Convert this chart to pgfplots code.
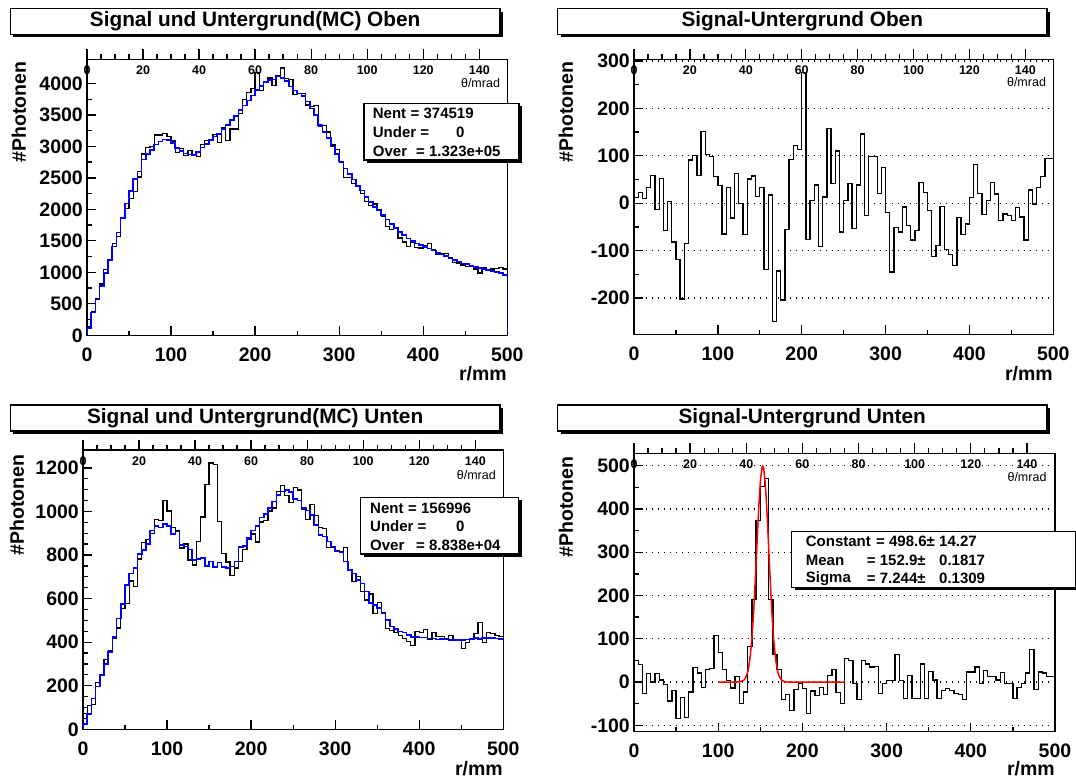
\documentclass[border=0pt]{standalone}
\usepackage{fontspec}
\setmainfont{Liberation Sans}
\usepackage{pgfplots}
\pgfplotsset{compat=1.18}
\usepackage{pgfplotstable}

\newcommand{\tickf}{\fontsize{19.5}{19.5}\selectfont\bfseries}
\newcommand{\titf}{\fontsize{20.8}{20.8}\selectfont\bfseries}
\newcommand{\thf}{\fontsize{12.5}{12.5}\selectfont\bfseries}
\newcommand{\thl}{\fontsize{12.5}{12.5}\selectfont}
\newcommand{\statf}{\fontsize{15}{15}\selectfont\bfseries}
\newcommand{\labf}{\fontsize{19.5}{19.5}\selectfont\bfseries}

\pgfplotstableread{
r b k d
0 0 0 0
0 120 132 12
5 360 383 23
10 570 580 10
15 780 813 33
20 990 1049 59
25 1200 1187 -13
30 1410 1462 52
35 1630 1572 -58
40 1860 1863 3
45 2090 2008 -82
50 2290 2171 -119
55 2480 2278 -202
60 2600 2515 -85
65 2790 2881 91
70 2880 2980 100
75 2940 2999 59
80 3030 3181 151
85 3080 3183 103
90 3110 3208 98
95 3100 3156 56
100 3050 3087 37
105 2970 2905 -65
110 2930 2963 33
115 2890 2859 -31
120 2870 2933 63
125 2860 2860 0
130 2910 2844 -66
135 2980 3031 51
140 3040 3097 57
145 3100 3114 14
150 3160 3193 33
155 3200 3060 -140
160 3280 3297 17
165 3340 3090 -250
170 3420 3277 -143
175 3480 3276 -204
180 3580 3524 -56
185 3650 3742 92
190 3730 3851 121
195 3810 3923 113
200 3900 4175 275
205 3960 3883 -77
210 4020 4026 6
215 4050 4088 38
220 4060 3969 -91
225 4110 4123 13
230 4090 4247 157
235 4040 4082 42
240 3950 4060 110
245 3890 3829 -61
250 3840 3845 5
255 3800 3842 42
260 3710 3656 -54
265 3600 3638 38
270 3500 3646 146
275 3340 3314 -26
280 3230 3328 98
285 3130 3228 98
290 3000 3021 21
295 2880 2955 75
300 2760 2740 -20
305 2650 2505 -145
310 2560 2509 -51
315 2475 2414 -61
320 2370 2362 -8
325 2300 2253 -47
330 2200 2122 -78
335 2120 2063 -57
340 2040 2083 43
345 1980 2002 22
350 1910 1895 -15
355 1840 1727 -113
360 1770 1681 -89
365 1700 1693 -7
370 1645 1547 -98
375 1590 1482 -108
380 1540 1409 -131
385 1500 1470 -30
390 1460 1394 -66
395 1430 1386 -44
400 1405 1417 12
405 1380 1462 82
410 1345 1366 21
415 1310 1286 -24
420 1285 1290 5
425 1260 1304 44
430 1220 1239 19
435 1195 1159 -36
440 1170 1147 -23
445 1140 1114 -26
450 1130 1094 -36
455 1100 1091 -9
460 1080 1051 -29
465 1065 987 -78
470 1050 1078 28
475 1035 1033 -2
480 1020 1053 33
485 1005 1061 56
490 985 1079 94
495 960 1054 94
500 960 1054 94
500 0 0 0
}\topdata

\pgfplotstableread{
r b k d
0 0 0 0
0 24 73 49
5 70 110 40
10 142 115 -27
15 196 215 19
20 249 249 0
25 300 319 19
30 356 361 5
35 425 419 -6
40 509 465 -44
45 575 556 -19
50 663 578 -85
55 716 681 -35
60 739 657 -82
65 805 782 -23
70 823 856 33
75 851 872 21
80 912 900 -12
85 933 962 29
90 927 958 31
95 941 1049 108
100 933 1002 69
105 897 926 29
110 907 911 4
115 846 832 -14
120 839 851 12
125 826 777 -49
130 777 754 -23
135 781 863 82
140 785 975 190
145 750 1124 374
150 770 1222 452
155 744 1214 470
160 765 955 190
165 744 808 64
170 739 768 29
175 747 706 -41
180 770 741 -29
185 836 771 -65
190 842 824 -18
195 877 873 -4
200 912 897 -15
205 933 860 -73
210 973 952 -21
215 989 958 -31
220 1015 1002 -13
225 1045 1016 -29
230 1076 1091 15
235 1091 1120 29
240 1099 1074 -25
245 1090 1040 -50
250 1056 1110 54
255 1050 1099 49
260 1015 1011 -4
265 1004 964 -40
270 984 1033 49
275 938 980 42
280 892 927 35
285 885 921 36
290 862 835 -27
295 839 835 -4
300 816 820 4
305 811 815 4
310 770 834 64
315 731 735 4
320 716 678 -38
325 686 701 15
330 670 632 -38
335 632 594 -38
340 579 621 42
345 571 533 -38
350 556 581 25
355 532 537 5
360 502 464 -38
365 471 452 -19
370 459 444 -15
375 448 429 -19
380 444 417 -27
385 433 404 -29
390 425 384 -41
395 425 448 23
400 422 445 23
405 422 457 35
410 417 413 -4
415 417 444 27
420 413 425 12
425 415 427 12
430 413 418 5
435 410 432 22
440 412 408 -4
445 410 406 -4
450 410 372 -38
455 412 400 -12
460 415 411 -4
465 418 439 21
470 415 490 75
475 418 400 -18
480 420 443 23
485 418 439 21
490 417 430 13
495 415 427 12
500 415 427 12
500 0 0 0
}\botdata

\pgfplotsset{
  rootbase/.style={
    anchor=south west, scale only axis,
    xmin=0, xmax=500,
    xtick={0,100,...,500}, minor x tick num=1,
    tick align=inside, xtick pos=lower, ytick pos=left,
    major tick length=9pt, minor tick length=4.5pt,
    axis line style={line width=1.3pt},
    tick style={line width=1.3pt, black},
    every tick label/.append style={font=\tickf},
    /pgf/number format/assume math mode=true,
    /pgf/number format/1000 sep={},
    xticklabel style={inner sep=0pt, anchor=north, yshift=-12pt},
    yticklabel style={inner sep=0pt, anchor=east, xshift=-4pt},
  },
  thetaaxis/.style={
    anchor=south west, scale only axis,
    xmin=0, xmax=150, ymin=0, ymax=1,
    axis y line=none, axis x line*=top,
    x axis line style={-, line width=1.3pt},
    xtick={0,20,...,140}, minor x tick num=3,
    tick align=outside, major tick length=10pt, minor tick length=5pt,
    tick style={line width=1.3pt, black},
    xticklabel style={font=\thf, inner sep=0pt, anchor=north, yshift=-16.5pt},
    /pgf/number format/assume math mode=true,
  },
  histk/.style={black, line width=1.3pt, const plot mark left, no marks},
  histb/.style={blue, line width=1.6pt, const plot mark left, no marks},
  rootgrid/.style={ymajorgrids, major grid style={black, line width=1.2pt, dash pattern=on 1.2pt off 4.8pt}},
}

\begin{document}
\begin{tikzpicture}
\path[use as bounding box, fill=white] (0,0) rectangle (1076pt,778pt);

% ---------- Panel 1 ----------
\begin{axis}[rootbase, at={(87pt,442.7pt)}, width=420.3pt, height=275.8pt,
  ymin=0, ymax=4380, ytick={0,500,...,4000}, minor y tick num=1]
\addplot[histk] table[x=r,y=k] {\topdata};
\addplot[histb] table[x=r,y=b] {\topdata};
\end{axis}
\begin{axis}[thetaaxis, at={(87pt,442.7pt)}, width=420.3pt, height=275.8pt]
\end{axis}

% ---------- Panel 2 ----------
\begin{axis}[rootbase, rootgrid, at={(634pt,443.5pt)}, width=419.3pt, height=275pt,
  ymin=-277, ymax=303, ytick={-200,-100,...,300}, minor y tick num=1]
\addplot[histk] table[x=r,y=d] {\topdata};
\end{axis}
\begin{axis}[thetaaxis, at={(634pt,443.5pt)}, width=419.3pt, height=275pt]
\end{axis}

% ---------- Panel 3 ----------
\begin{axis}[rootbase, at={(83pt,48.7pt)}, width=420.3pt, height=279.3pt,
  ymin=0, ymax=1282, ytick={0,200,...,1200}, minor y tick num=3]
\addplot[histk] table[x=r,y=k] {\botdata};
\addplot[histb] table[x=r,y=b] {\botdata};
\end{axis}
\begin{axis}[thetaaxis, at={(83pt,48.7pt)}, width=420.3pt, height=279.3pt]
\end{axis}

% ---------- Panel 4 ----------
\begin{axis}[rootbase, rootgrid, at={(634pt,46.3pt)}, width=421pt, height=278.4pt,
  ymin=-114.8, ymax=528.7, ytick={-100,0,...,500}, minor y tick num=1]
\addplot[histk] table[x=r,y=d] {\botdata};
\addplot[red, line width=1.5pt, smooth, no marks] coordinates {
(100,0) (120,0) (130,3.4) (134,16.6) (136,32.8) (138,59.9) (140,102.1) (142,160.7)
(144,234.3) (146,316.8) (148,396.6) (150,460.2) (152,494.8) (153,498.6) (154,492.9)
(156,455.0) (158,389.2) (160,308.4) (162,226.5) (164,154.1) (166,97.2) (168,56.8)
(170,30.7) (172,15.4) (176,3.1) (180,0.45) (190,0) (250,0)};
\end{axis}
\begin{axis}[thetaaxis, at={(634pt,46.3pt)}, width=421pt, height=278.4pt]
\end{axis}

% ---------- annotations (image coordinates) ----------
\begin{scope}[x=1pt, y=-1pt, shift={(0pt,778pt)}]
% titles
\foreach \xa/\xb/\ya/\yb/\t in {10.3/500/8.6/34.4/{Signal und Untergrund(MC) Oben},
  557.5/1047/8.6/34.4/{Signal-Untergrund Oben},
  10.3/500/405/431/{Signal und Untergrund(MC) Unten},
  557.5/1047/405/431/{Signal-Untergrund Unten}}{
  \fill[black] (\xa+3,\ya+3) rectangle (\xb+3,\yb+3);
  \draw[fill=white, line width=1.3pt] (\xa,\ya) rectangle (\xb,\yb);
  \node[font=\titf] at ({(\xa+\xb)/2},{(\ya+\yb)/2}) {\t};
}
% y labels
\node[font=\labf, rotate=90, anchor=east] at (19,58.3) {\#Photonen};
\node[font=\labf, rotate=90, anchor=east] at (566,58.3) {\#Photonen};
\node[font=\labf, rotate=90, anchor=east] at (17,451) {\#Photonen};
\node[font=\labf, rotate=90, anchor=east] at (566,453) {\#Photonen};
% x labels
\node[font=\labf, anchor=east, inner sep=0pt] at (507,374) {r/mm};
\node[font=\labf, anchor=east, inner sep=0pt] at (1053,374) {r/mm};
\node[font=\labf, anchor=east, inner sep=0pt] at (503,769) {r/mm};
\node[font=\labf, anchor=east, inner sep=0pt] at (1055,769) {r/mm};
% theta labels
\node[font=\thl] at (480.5,82.8) {θ/mrad};
\node[font=\thl] at (1026.5,81.7) {θ/mrad};
\node[font=\thl] at (476.3,475) {θ/mrad};
\node[font=\thl] at (1027,476.7) {θ/mrad};
\tikzset{st/.style={font=\statf, anchor=west, inner sep=0pt}}
% stat box panel 1
\fill[black] (367,106.3) rectangle (522,163);
\draw[fill=white, line width=1.3pt] (364,103.3) rectangle (519,160);
\node[st] at (372.7,113.8) {Nent};
\node[st] at (410.5,113.8) {= 374519};
\node[st] at (372.7,132) {Under =};
\node[st] at (456,132) {0};
\node[st] at (372.7,151.3) {Over};
\node[st] at (416,151.3) {= 1.323e+05};
% stat box panel 3
\fill[black] (363.7,500.3) rectangle (521.7,557);
\draw[fill=white, line width=1.3pt] (360.7,497.3) rectangle (518.7,554);
\node[st] at (370,508) {Nent};
\node[st] at (408,508) {= 156996};
\node[st] at (370,526) {Under =};
\node[st] at (456,526) {0};
\node[st] at (370,545) {Over};
\node[st] at (416,545) {= 8.838e+04};
% fit box panel 4
\fill[black] (794.7,534.7) rectangle (1079,590.3);
\draw[fill=white, line width=1.3pt] (791.7,531.7) rectangle (1076,587.3);
\node[st] at (805.7,541.7) {Constant};
\node[st] at (876,541.7) {= 498.6±};
\node[st] at (939,541.7) {14.27};
\node[st] at (805.7,560) {Mean};
\node[st] at (866.7,560) {= 152.9±};
\node[st] at (939,560) {0.1817};
\node[st] at (805.7,578.3) {Sigma};
\node[st] at (866.7,578.3) {= 7.244±};
\node[st] at (939,578.3) {0.1309};
\end{scope}
\end{tikzpicture}
\end{document}
